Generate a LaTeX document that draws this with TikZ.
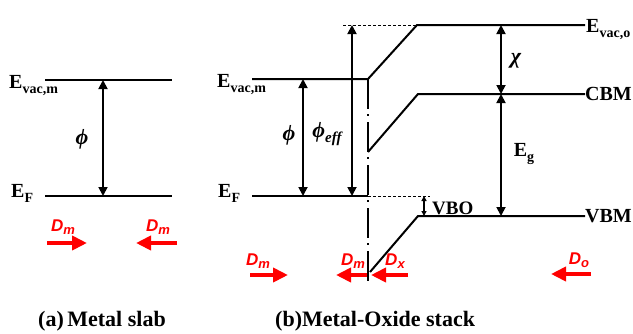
\documentclass[tikz,border=0pt]{standalone}
\usepackage{fontspec}
\setmainfont{Liberation Serif}
\newfontfamily\dfont{Liberation Sans}
\usetikzlibrary{arrows.meta,positioning}

% energy level label with a lowered subscript
\newcommand{\lev}[2]{#1\raisebox{-5pt}{\fontsize{14}{14}\selectfont #2}}
% red dipole label
\newcommand{\dip}[1]{D\raisebox{-3pt}{\fontsize{13}{13}\selectfont #1}}

\begin{document}
\begin{tikzpicture}[
    x=1pt, y=-1pt,
    level/.style={line width=2pt},
    guide/.style={line width=1pt, dash pattern=on 3pt off 2pt},
    iface/.style={line width=1.8pt, dash pattern=on 30pt off 5pt on 2pt off 6pt},
    gaparrow/.style={{Triangle[length=9pt,width=9pt]}-{Triangle[length=9pt,width=9pt]}, line width=1.8pt},
    smallgap/.style={{Triangle[length=5pt,width=5pt]}-{Triangle[length=5pt,width=5pt]}, line width=1.2pt},
    dipole/.style={-{Triangle[length=15pt,width=14pt]}, draw=red, line width=4pt},
    elabel/.style={font=\bfseries\fontsize{20}{20}\selectfont, inner sep=0pt},
    greek/.style={font=\bfseries\itshape\fontsize{22}{22}\selectfont, inner sep=0pt},
    dlabel/.style={text=red, font=\dfont\bfseries\itshape\fontsize{17}{17}\selectfont, inner sep=0pt},
    caption/.style={font=\bfseries\fontsize{22}{22}\selectfont, inner sep=0pt, anchor=west}
  ]
  \useasboundingbox (0,0) rectangle (633,333);

  % (a) metal slab
  \coordinate (vacA1) at (45,80);
  \coordinate (vacA2) at (172,80);
  \coordinate (efA1) at (45,196);
  \coordinate (efA2) at (172,196);
  \coordinate (phiAtop) at (103,80);
  \coordinate (phiAbot) at (103,196);
  \draw[level] (vacA1) -- (vacA2);
  \draw[level] (efA1) -- (efA2);
  \draw[gaparrow] (phiAtop) -- (phiAbot);
  \node[elabel, anchor=base west] (vacAlbl) at (9,88) {\lev{E}{vac,m}};
  \node[elabel, anchor=base west] (efAlbl) at (11,197) {\lev{E}{F}};
  \node[greek] (phiA) at (82,139) {ϕ};

  \coordinate (dmA1s) at (47,243);
  \coordinate (dmA1e) at (87,243);
  \coordinate (dmA2s) at (177,243);
  \coordinate (dmA2e) at (136,243);
  \draw[dipole] (dmA1s) -- (dmA1e);
  \draw[dipole] (dmA2s) -- (dmA2e);
  \node[dlabel] (dmA1) at (63,227) {\dip{m}};
  \node[dlabel] (dmA2) at (158,227) {\dip{m}};

  % (b) metal-oxide stack
  \coordinate (vacB1) at (252,79);
  \coordinate (ifVac) at (368,79);
  \coordinate (vacOk) at (417,25);
  \coordinate (vacO) at (585,25);
  \coordinate (efB1) at (252,196);
  \coordinate (ifEf) at (368,196);
  \coordinate (efEnd) at (430,196);
  \coordinate (topDash) at (343,25);
  \coordinate (ifCbm) at (368,152);
  \coordinate (cbmK) at (418,94);
  \coordinate (cbmO) at (585,94);
  \coordinate (ifVbm) at (370,272);
  \coordinate (vbmK) at (418,216);
  \coordinate (vbmO) at (585,216);
  \coordinate (ifBot) at (368,283);

  \draw[level] (vacB1) -- (ifVac) -- (vacOk) -- (vacO);
  \draw[level] (efB1) -- (ifEf);
  \draw[level] (ifCbm) -- (cbmK) -- (cbmO);
  \draw[level] (ifVbm) -- (vbmK) -- (vbmO);
  \draw[guide] (topDash) -- (vacOk);
  \draw[guide] (ifEf) -- (efEnd);

  \coordinate (phiBtop) at (303,79);
  \coordinate (phiBbot) at (303,196);
  \coordinate (effTop) at (352,25);
  \coordinate (effBot) at (352,196);
  \coordinate (chiTop) at (501,25);
  \coordinate (chiBot) at (501,94);
  \coordinate (egBot) at (501,216);
  \coordinate (vboTop) at (424,196);
  \coordinate (vboBot) at (424,216);
  \draw[gaparrow] (phiBtop) -- (phiBbot);
  \draw[gaparrow] (effTop) -- (effBot);
  \draw[gaparrow] (chiTop) -- (chiBot);
  \draw[gaparrow] (chiBot) -- (egBot);
  \draw[smallgap] (vboTop) -- (vboBot);

  \node[elabel, anchor=base west] (vacBlbl) at (217,87) {\lev{E}{vac,m}};
  \node[elabel, anchor=base west] (efBlbl) at (218,197) {\lev{E}{F}};
  \node[elabel, anchor=base west] (vacOlbl) at (586,32) {\lev{E}{vac,o}};
  \node[elabel, anchor=west] (cbmlbl) at (cbmO) {CBM};
  \node[elabel, anchor=west] (vbmlbl) at (vbmO) {VBM};
  \node[elabel, font=\bfseries\fontsize{19}{19}\selectfont, anchor=west] (vbolbl) at (432,208) {VBO};
  \node[greek] (phiB) at (289,135) {ϕ};
  \node[greek] (phiEff) at (327,134) {ϕ\raisebox{-5pt}{\fontsize{15}{15}\selectfont eff}};
  \node[greek] (chi) at (516,61) {χ};
  \node[elabel] (eg) at (524,154) {\lev{E}{g}};

  \coordinate (dmBs) at (250,275);
  \coordinate (dmBe) at (288,275);
  \coordinate (dmIs) at (367,275);
  \coordinate (dmIe) at (336,275);
  \coordinate (dxs) at (408,275);
  \coordinate (dxe) at (371,275);
  \coordinate (dos) at (591,274);
  \coordinate (doe) at (551,274);
  \draw[dipole] (dmBs) -- (dmBe);
  \draw[dipole] (dmIs) -- (dmIe);
  \draw[dipole] (dxs) -- (dxe);
  \draw[dipole] (dos) -- (doe);
  \node[dlabel] (dmB) at (258,261) {\dip{m}};
  \node[dlabel] (dmI) at (353,261) {\dip{m}};
  \node[dlabel] (dx) at (395,261) {\dip{x}};
  \node[dlabel] (do) at (579,260) {\dip{o}};

  \draw[iface] (ifVac) -- (ifBot);

  % captions
  \node[caption] (capA) at (38,321) {(a)\hspace{-2pt} Metal slab};
  \node[caption] (capB) at (275,321) {(b)Metal-Oxide stack};
\end{tikzpicture}
\end{document}
